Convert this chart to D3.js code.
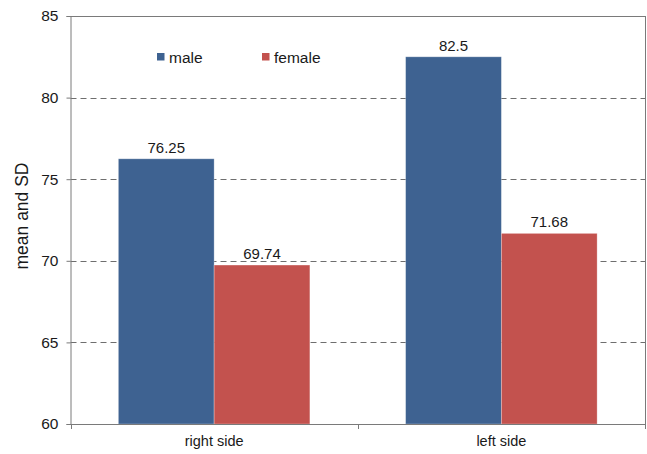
<!DOCTYPE html>
<html>
<head>
<meta charset="utf-8">
<script src="https://cdn.jsdelivr.net/npm/d3@7"></script>
<style>
  html, body { margin: 0; padding: 0; background: #fff; }
  svg text { font-family: "Liberation Sans", Arial, sans-serif; fill: #1a1a1a; }
</style>
</head>
<body>
<svg id="chart" width="647" height="454"></svg>
<script>
const categories = ["right side", "left side"];
const seriesNames = ["male", "female"];
const maleValues = [76.25, 82.5];
const femaleValues = [69.74, 71.68];
const yTicks = [60, 65, 70, 75, 80, 85];
const colors = ["#3E6291", "#C3524E"];

const svg = d3.select("#chart");
const margin = { left: 70.5, right: 2, top: 16, bottom: 30 };
const W = 647, H = 454;
const x0 = margin.left, x1 = W - margin.right;
const yTop = margin.top, yBot = H - margin.bottom;

const x = d3.scaleBand().domain(categories).range([x0, x1]).paddingInner(0).paddingOuter(0);
const xs = d3.scaleBand().domain(seriesNames).range([0, x.bandwidth()]).paddingInner(0).paddingOuter(0.5);
const y = d3.scaleLinear().domain([60, 85]).range([yBot, yTop]);

// dashed gridlines
svg.append("g").selectAll("line").data(yTicks.filter(t => t > 60 && t < 85)).join("line")
  .attr("x1", x0).attr("x2", x1)
  .attr("y1", d => Math.round(y(d)) + 0.5).attr("y2", d => Math.round(y(d)) + 0.5)
  .attr("stroke", "#6e6e6e").attr("stroke-width", 1).attr("stroke-dasharray", "6,4");

// bars
const data = categories.map((c, i) => ({ cat: c, values: [maleValues[i], femaleValues[i]] }));
const groups = svg.append("g").selectAll("g").data(data).join("g")
  .attr("transform", d => `translate(${x(d.cat)},0)`);
groups.selectAll("rect").data(d => d.values.map((v, j) => ({ v, s: seriesNames[j], j }))).join("rect")
  .attr("x", d => xs(d.s)).attr("width", xs.bandwidth())
  .attr("y", d => y(d.v)).attr("height", d => y(60) - y(d.v))
  .attr("fill", d => colors[d.j])
  .attr("stroke", "#ffffff").attr("stroke-opacity", 0.35).attr("stroke-width", 0.8);
groups.selectAll("text").data(d => d.values.map((v, j) => ({ v, s: seriesNames[j] }))).join("text")
  .attr("x", d => xs(d.s) + xs.bandwidth() / 2).attr("y", d => y(d.v) - 6)
  .attr("text-anchor", "middle").attr("font-size", 15)
  .text(d => d.v);

// plot frame: top and right edges
svg.append("line").attr("x1", x0).attr("x2", x1 + 0.5).attr("y1", yTop + 0.5).attr("y2", yTop + 0.5)
  .attr("stroke", "#7a7a7a");
svg.append("line").attr("x1", x1 + 0.5).attr("x2", x1 + 0.5).attr("y1", yTop).attr("y2", yBot)
  .attr("stroke", "#7a7a7a");

// y axis
const yAxis = svg.append("g").attr("transform", `translate(${x0},0)`)
  .call(d3.axisLeft(y).tickValues(yTicks).tickSize(4).tickPadding(8).tickFormat(d3.format("d")));
yAxis.select(".domain").attr("stroke", "#7a7a7a");
yAxis.selectAll(".tick line").attr("stroke", "#7a7a7a");
yAxis.selectAll(".tick text").attr("font-size", 15.5).attr("fill", "#1a1a1a")
  .attr("font-family", "Liberation Sans, Arial, sans-serif");

// x axis
const xAxis = svg.append("g").attr("transform", `translate(0,${yBot})`)
  .call(d3.axisBottom(x).tickSize(0).tickPadding(12));
xAxis.select(".domain").attr("stroke", "#7a7a7a");
xAxis.selectAll(".tick text").attr("font-size", 14.5).attr("fill", "#1a1a1a")
  .attr("font-family", "Liberation Sans, Arial, sans-serif");
// category separators
svg.append("g").selectAll("line").data([x0, x(categories[1]), x1]).join("line")
  .attr("x1", d => Math.round(d) + 0.5).attr("x2", d => Math.round(d) + 0.5)
  .attr("y1", yBot).attr("y2", yBot + 5).attr("stroke", "#7a7a7a");

// y axis title
svg.append("text")
  .attr("transform", `translate(28,${(yTop + yBot) / 2 - 4}) rotate(-90)`)
  .attr("text-anchor", "middle").attr("font-size", 17.5)
  .text("mean and SD");

// legend
const legendX = [157, 262];
const legend = svg.append("g").selectAll("g").data(seriesNames).join("g")
  .attr("transform", (d, i) => `translate(${legendX[i]},53)`);
legend.append("rect").attr("width", 7.5).attr("height", 7.5)
  .attr("fill", (d, i) => colors[i]);
legend.append("text").attr("x", 12).attr("y", 9.5).attr("font-size", 15.5).text(d => d);
</script>
</body>
</html>
